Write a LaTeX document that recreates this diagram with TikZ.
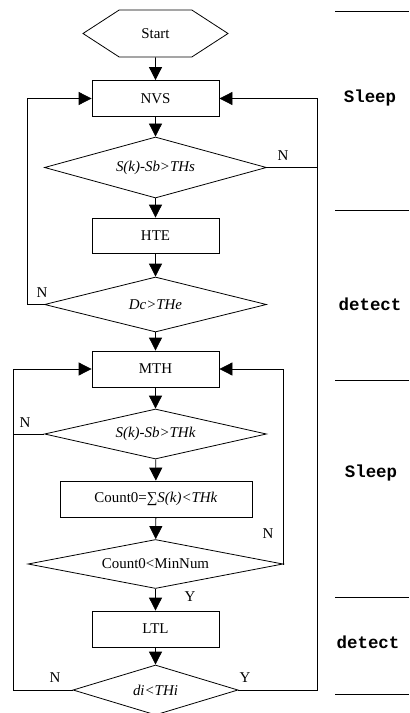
\documentclass[tikz,border=0pt]{standalone}
\usepackage{fontspec}
\setmainfont{Liberation Serif}
\newfontfamily\stagefont{Liberation Mono}
\usetikzlibrary{arrows.meta,shapes.geometric,shapes.symbols}

\begin{document}
\begin{tikzpicture}[x=1bp,y=-1bp,
    font=\fontsize{15}{18}\selectfont,
    line width=0.8bp,
    box/.style={draw, rectangle, minimum width=127bp, minimum height=36bp, inner sep=2bp},
    test/.style={draw, diamond, aspect=3, inner sep=0pt},
    flow/.style={-{Triangle[length=13bp,width=13bp]}},
    stage/.style={font=\stagefont\bfseries\fontsize{17.5}{20}\selectfont}]
  \useasboundingbox (0,0) rectangle (409,713);

  % main chain
  \node[draw, signal, signal to=west and east, signal pointer angle=66,
        minimum width=145bp, minimum height=47bp] (start) at (155.5,33.5) {Start};
  \node[box] (nvs) at (155.5,98.5) {NVS};
  \node[test, minimum width=222bp, minimum height=61bp] (cs) at (155.5,167.5) {\itshape S(k)-Sb>THs};
  \node[box, minimum height=35bp] (hte) at (155.5,235.5) {HTE};
  \node[test, minimum width=222bp, minimum height=55bp] (ce) at (155.5,304.5) {\itshape Dc>THe};
  \node[box] (mth) at (155.5,369) {MTH};
  \node[test, minimum width=222bp, minimum height=50bp] (ck) at (155.5,434) {\itshape S(k)-Sb>THk};
  \node[box, minimum width=192bp] (cnt) at (156,499) {Count0=∑\textit{S(k)<THk}};
  \node[test, minimum width=255bp, minimum height=49bp] (cn) at (155.5,564) {Count0<MinNum};
  \node[box] (ltl) at (155.5,629) {LTL};
  \node[test, minimum width=165bp, minimum height=50bp] (ci) at (155.5,690) {\itshape di<THi};

  \foreach \a/\b in {start/nvs, nvs/cs, cs/hte, hte/ce, ce/mth, mth/ck, ck/cnt, cnt/cn, cn/ltl, ltl/ci}
    \draw[flow] (\a) -- (\b);

  % feedback lines
  \coordinate (rbus) at (317,98.5);
  \coordinate (lbus) at (27,98.5);
  \coordinate (mbus) at (13,369);
  \coordinate (kbus) at (283,369);
  \draw[flow] (ci.east) -| (rbus) -- (nvs.east);
  \draw (cs.east) -- (cs.east -| rbus);
  \draw[flow] (ce.west) -| (lbus) -- (nvs.west);
  \draw[flow] (ci.west) -| (mbus) -- (mth.west);
  \draw (ck.west) -- (ck.west -| mbus);
  \draw[flow] (cn.east) -| (kbus) -- (mth.east);

  % branch labels
  \node (n1) at (283,156) {N};
  \node (n2) at (42,293) {N};
  \node (n3) at (25,423) {N};
  \node (n4) at (268,534) {N};
  \node (y4) at (190,597) {Y};
  \node (n5) at (55,678) {N};
  \node (y5) at (245,678) {Y};

  % stage column
  \foreach \y in {11,210,380,597,694}
    \draw (335,\y) -- (409,\y);
  \node[stage] (s1) at (370,98) {Sleep};
  \node[stage] (s2) at (370,304) {detect};
  \node[stage] (s3) at (371,473) {Sleep};
  \node[stage] (s4) at (368,642) {detect};
\end{tikzpicture}
\end{document}
